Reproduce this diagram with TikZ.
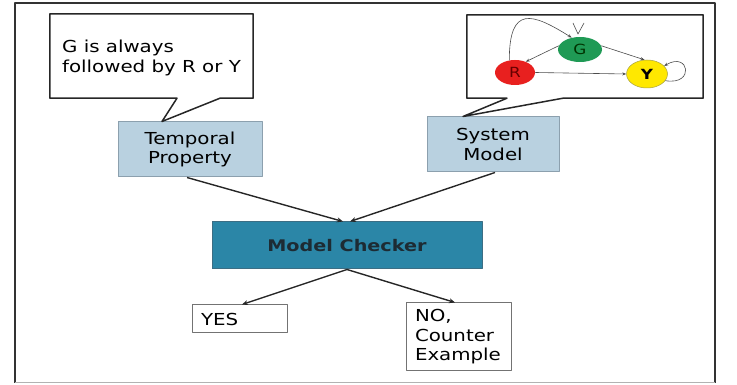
\documentclass[tikz,border=0pt]{standalone}
\usepackage{fontspec}
\setmainfont{DejaVu Sans}[FakeStretch=1.2]
\usetikzlibrary{arrows.meta,shapes.geometric}
\begin{document}
\begin{tikzpicture}[x=1pt,y=1pt,line join=round]
  % Colors
  \definecolor{propcolor}{RGB}{185,209,224}
  \definecolor{propframe}{RGB}{140,160,174}
  \definecolor{checkcolor}{RGB}{43,134,167}
  \definecolor{checkframe}{RGB}{60,110,132}
  \definecolor{checktext}{RGB}{29,43,51}
  \definecolor{gcolor}{RGB}{31,154,85}
  \definecolor{rcolor}{RGB}{232,32,31}
  \definecolor{ycolor}{RGB}{255,232,0}
  \colorlet{linecolor}{black!85}

  % Styles
  \tikzstyle{big text}=[font=\fontsize{16.5}{19.5}\selectfont]
  \tikzstyle{bubble}=[inner sep=0pt,big text,align=left]
  \tikzstyle{bubble line}=[linecolor,line width=1.5pt]
  \tikzstyle{block}=[draw=propframe,fill=propcolor,line width=1pt,big text,align=center,inner sep=0pt]
  \tikzstyle{answer}=[draw=black!55,line width=1pt,big text,align=left,inner xsep=9pt,inner ysep=0pt]
  \tikzstyle{state}=[ellipse,inner sep=0pt,line width=0.5pt,font=\fontsize{14}{14}\selectfont]
  \tikzstyle{flow}=[linecolor,line width=1.4pt,-{Stealth[length=6pt,width=5pt]}]
  \tikzstyle{trans}=[black!70,line width=0.6pt,-{Stealth[length=4pt,width=3pt]}]

  \useasboundingbox (0,0) rectangle (737,385);

  % Frame
  \draw[black!80,line width=2pt] (15,2) -- (15,382) -- (715,382) -- (715,2);
  \draw[black!30,line width=1pt] (15,2) -- (715,2);

  % Inputs
  \node[block,minimum width=144,minimum height=55] (tp) at (190,235.5) {Temporal\\Property};
  \node[block,minimum width=132,minimum height=55] (sm) at (493,240.5) {System\\Model};

  \node[bubble,minimum width=203,minimum height=84] (claim) at (151.5,327) {G is always\\followed by R or Y};
  \draw[style=bubble line] ([yshift=2]claim.south west) -- ([yshift=2]claim.north west)
    -- ([yshift=2]claim.north east) -- ([yshift=2]claim.south east)
    -- ([xshift=68.5,yshift=2]claim.south) -- ([xshift=-28]tp.north)
    -- ([xshift=25.5,yshift=2]claim.south) -- cycle;

  \node[minimum width=236,minimum height=83,inner sep=0pt] (model) at (585,328.5) {};
  \draw[style=bubble line] (model.south west) -- (model.north west) -- (model.north east)
    -- (model.south east) -- ([xshift=-22]model.south) -- ([xshift=-30]sm.north)
    -- ([xshift=-78]model.south) -- cycle;

  % The state graph
  \node[state,fill=gcolor,text=green!20!black,minimum width=44,minimum height=25] (G) at (580,335.5) {G};
  \node[state,fill=rcolor,text=red!40!black,minimum width=40,minimum height=25] (R) at (515,312.5) {R};
  \node[state,fill=ycolor,draw=yellow!60!black,minimum width=41,minimum height=28,font=\bfseries\fontsize{14}{14}\selectfont] (Y) at (647,311) {Y};

  \draw[trans] (R.115) .. controls +(0,55) and +(-40,25) .. (G.125);
  \draw[trans] (G.170) -- (R.45);
  \draw[trans] (G.10) -- (Y.100);
  \draw[trans] (R.east) -- (Y.west);
  \draw[trans] (Y.-20) .. controls +(30,-5) and +(25,15) .. (Y.25);
  \draw[black!70,line width=0.6pt] (573,362) -- (578,351) -- (584,362);

  % Checker and answers
  \node[block,fill=checkcolor,draw=checkframe,text=checktext,minimum width=270,minimum height=47,
    font=\bfseries\fontsize{16}{19}\selectfont] (mc) at (347,139.5) {Model Checker};

  \node[answer,text width=77,minimum height=28] (yes) at (239.5,66) {YES};
  \node[answer,text width=87,minimum height=68] (no) at (458.5,48) {NO,\\Counter\\Example};

  \draw[flow] ([xshift=-3]tp.south) -- ([xshift=-4]mc.north);
  \draw[flow] ([xshift=2]sm.south) -- ([xshift=3]mc.north);
  \draw[flow] (mc.south) -- ([xshift=2.5]yes.north);
  \draw[flow] (mc.south) -- ([xshift=-3.5]no.north);
\end{tikzpicture}
\end{document}
